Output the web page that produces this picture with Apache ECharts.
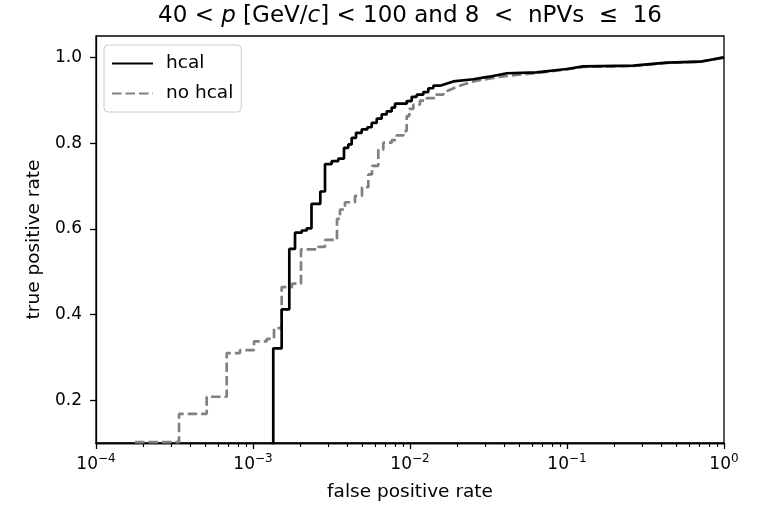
<!DOCTYPE html>
<html><head><meta charset="utf-8">
<script src="https://cdn.jsdelivr.net/npm/echarts@6/dist/echarts.min.js"></script>
<style>html,body{margin:0;padding:0;background:#fff}#c{width:767px;height:507px}</style>
</head><body><div id="c"></div>
<script>
// ---- data ----
const seriesNames = ['hcal', 'no hcal'];
const hcalFpr = [1.346e-3,1.346e-3,1.523e-3,1.523e-3,1.703e-3,1.703e-3,1.852e-3,1.852e-3,2.043e-3,2.043e-3,2.198e-3,2.198e-3,2.358e-3,2.358e-3,2.683e-3,2.683e-3,2.875e-3,2.875e-3,3.172e-3,3.172e-3,3.494e-3,3.494e-3,3.799e-3,3.799e-3,4.046e-3,4.046e-3,4.253e-3,4.253e-3,4.530e-3,4.530e-3,4.925e-3,4.925e-3,5.346e-3,5.346e-3,5.703e-3,5.703e-3,6.137e-3,6.137e-3,6.601e-3,6.601e-3,7.104e-3,7.104e-3,7.644e-3,7.644e-3,8.025e-3,8.025e-3,9.528e-3,9.528e-3,1.025e-2,1.025e-2,1.103e-2,1.103e-2,1.215e-2,1.215e-2,1.308e-2,1.308e-2,1.408e-2,1.408e-2,1.553e-2,1.553e-2,1.887e-2,2.531e-2,3.2e-2,4.130e-2,6.412e-2,9.956e-2,0.127,0.2645,0.4315,0.7034,1.0];
const hcalTpr = [0.0,0.321,0.321,0.412,0.412,0.553,0.553,0.591,0.591,0.596,0.596,0.601,0.601,0.658,0.658,0.687,0.687,0.751,0.751,0.758,0.758,0.764,0.764,0.789,0.789,0.797,0.797,0.812,0.812,0.824,0.824,0.832,0.832,0.837,0.837,0.847,0.847,0.857,0.857,0.867,0.867,0.874,0.874,0.883,0.883,0.892,0.892,0.898,0.898,0.908,0.908,0.913,0.913,0.919,0.919,0.928,0.928,0.934,0.934,0.938,0.944,0.949,0.955,0.963,0.965,0.973,0.979,0.981,0.988,0.990,1.0];
const noHcalFpr = [1.771e-4,3.379e-4,3.379e-4,5.071e-4,5.071e-4,6.801e-4,6.801e-4,8.264e-4,8.264e-4,1.015e-3,1.015e-3,1.223e-3,1.223e-3,1.361e-3,1.361e-3,1.523e-3,1.523e-3,1.772e-3,1.772e-3,2.022e-3,2.022e-3,2.606e-3,2.606e-3,2.875e-3,2.875e-3,3.428e-3,3.428e-3,3.583e-3,3.583e-3,3.855e-3,3.855e-3,4.464e-3,4.464e-3,4.947e-3,4.947e-3,5.425e-3,5.425e-3,5.728e-3,5.728e-3,6.282e-3,6.282e-3,6.759e-3,6.759e-3,7.644e-3,7.644e-3,8.227e-3,8.227e-3,9.064e-3,9.064e-3,9.528e-3,9.528e-3,9.897e-3,9.897e-3,1.050e-2,1.050e-2,1.158e-2,1.158e-2,1.278e-2,1.278e-2,1.443e-2,1.443e-2,1.630e-2,1.630e-2,2.0e-2,2.531e-2,3.744e-2,6.412e-2,9.956e-2,0.127,0.2645,0.4315,0.7034,1.0];
const noHcalTpr = [0.102,0.102,0.168,0.168,0.208,0.208,0.310,0.310,0.317,0.317,0.337,0.337,0.343,0.343,0.368,0.368,0.464,0.464,0.472,0.472,0.552,0.552,0.558,0.558,0.574,0.574,0.623,0.623,0.645,0.645,0.662,0.662,0.677,0.677,0.697,0.697,0.727,0.727,0.747,0.747,0.785,0.785,0.801,0.801,0.807,0.807,0.818,0.818,0.828,0.828,0.863,0.863,0.880,0.880,0.890,0.890,0.899,0.899,0.905,0.905,0.913,0.913,0.918,0.932,0.944,0.955,0.964,0.972,0.978,0.980,0.987,0.990,1.0];
const xMajorTicks = [1e-4, 1e-3, 1e-2, 1e-1, 1];
const xMinorMultipliers = [2,3,4,5,6,7,8,9];
const yTicks = [0.2, 0.4, 0.6, 0.8, 1.0];
const titleText = '{n|40 < }{i|p}{n| [GeV/}{i|c}{n|] < 100 and 8  <  nPVs  ≤  16}';
const xLabel = 'false positive rate';
const yLabel = 'true positive rate';

// ---- build ----
const FONT = 'DejaVu Sans';
const xMinorTicks = [];
for (let d = 0; d < xMajorTicks.length - 1; d++) {
  for (const m of xMinorMultipliers) xMinorTicks.push(xMajorTicks[d] * m);
}
const toPairs = (xs, ys) => xs.map((x, i) => [x, ys[i]]);
const axisColor = '#000';

const chart = echarts.init(document.getElementById('c'), null, {renderer: 'canvas'});
chart.setOption({
  animation: false,
  backgroundColor: '#fff',
  title: {
    text: titleText, left: 410, top: 5, textAlign: 'center', padding: 0,
    textStyle: {
      fontWeight: 'normal', fontFamily: FONT, fontSize: 23, color: '#000',
      rich: {
        n: {fontFamily: FONT, fontSize: 23, fontWeight: 'normal', color: '#000'},
        i: {fontFamily: FONT, fontSize: 23, fontWeight: 'normal', fontStyle: 'italic', color: '#000'}
      }
    }
  },
  grid: {left: 96, right: 43, top: 36, bottom: 62.5, show: true, borderColor: '#000', borderWidth: 1.3, backgroundColor: 'transparent'},
  legend: {
    data: seriesNames, orient: 'vertical', left: 104, top: 45,
    itemWidth: 41, itemHeight: 18, itemGap: 11,
    padding: [9, 8, 9, 7],
    itemStyle: {opacity: 0},
    backgroundColor: 'rgba(255,255,255,0.8)', borderColor: '#cccccc', borderWidth: 1, borderRadius: 4,
    formatter: n => '{a|' + n + '}',
    textStyle: {fontFamily: FONT, fontSize: 18.5, color: '#000', rich: {a: {fontFamily: FONT, fontSize: 18.5, color: '#000', padding: [0, 0, 0, 8]}}}
  },
  xAxis: [{
    type: 'log', logBase: 10, min: 1e-4, max: 1,
    axisLine: {onZero: false, lineStyle: {color: axisColor, width: 1.3}},
    axisTick: {show: true, inside: false, length: 6, customValues: xMajorTicks, lineStyle: {color: axisColor, width: 1.3}},
    axisLabel: {
      customValues: xMajorTicks, margin: 10,
      formatter: v => {
        const e = Math.round(Math.log10(v));
        return '{b|10}{s|' + (e < 0 ? '\u2212' + (-e) : String(e)) + '}';
      },
      rich: {
        b: {fontFamily: FONT, fontSize: 17, color: '#000', verticalAlign: 'bottom', lineHeight: 20},
        s: {fontFamily: FONT, fontSize: 12, color: '#000', verticalAlign: 'bottom', lineHeight: 12, padding: [0, 0, 8, 0]}
      }
    },
    splitLine: {show: false},
    name: xLabel, nameLocation: 'middle', nameGap: 40,
    nameTextStyle: {fontFamily: FONT, fontSize: 18.5, color: '#000'}
  }, {
    type: 'log', logBase: 10, min: 1e-4, max: 1, position: 'bottom',
    axisLine: {show: true, onZero: false, lineStyle: {color: axisColor, width: 1.3}},
    axisTick: {show: true, inside: false, length: 4, customValues: xMinorTicks, lineStyle: {color: axisColor, width: 1.1}},
    axisLabel: {show: false},
    splitLine: {show: false}
  }],
  yAxis: {
    type: 'value', min: 0.1, max: 1.05,
    axisLine: {show: true, onZero: false, lineStyle: {color: axisColor, width: 1.3}},
    axisTick: {show: true, inside: false, length: 6, customValues: yTicks, lineStyle: {color: axisColor, width: 1.3}},
    axisLabel: {customValues: yTicks, formatter: v => v.toFixed(1), fontFamily: FONT, fontSize: 17, color: '#000', margin: 14},
    splitLine: {show: false},
    name: yLabel, nameLocation: 'middle', nameGap: 48,
    nameTextStyle: {fontFamily: FONT, fontSize: 18.5, color: '#000'}
  },
  series: [{
    name: seriesNames[0], type: 'line', xAxisIndex: 0, data: toPairs(hcalFpr, hcalTpr),
    symbol: 'none', showSymbol: false, clip: true, z: 3,
    lineStyle: {color: '#000', width: 2.7}, itemStyle: {color: '#000'}
  }, {
    name: seriesNames[1], type: 'line', xAxisIndex: 0, data: toPairs(noHcalFpr, noHcalTpr),
    symbol: 'none', showSymbol: false, clip: true, z: 2,
    lineStyle: {color: '#808080', width: 2.7, type: [9.5, 4]}, itemStyle: {color: '#808080'}
  }]
});
</script></body></html>
